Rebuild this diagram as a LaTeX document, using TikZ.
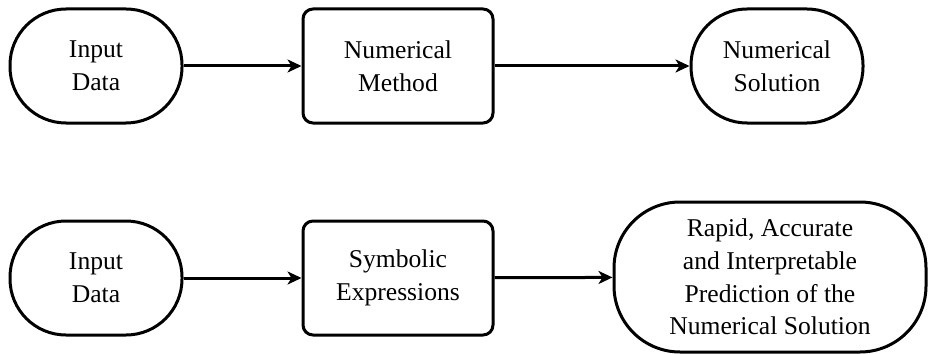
\documentclass[tikz,border=0pt]{standalone}
\usepackage{fontspec}
\setmainfont{LiberationSerif}[Extension=.ttf, UprightFont=*-Regular, BoldFont=*-Bold, ItalicFont=*-Italic]
\usetikzlibrary{arrows.meta}
\begin{document}
\begin{tikzpicture}[x=1pt,y=1pt,
  every node/.style={font=\fontsize{12.8}{16.4}\selectfont, align=center, inner sep=0pt, line width=1.5pt},
  stadium/.style={draw, rectangle, rounded corners=28pt, minimum width=86pt, minimum height=57pt},
  bigstadium/.style={draw, rectangle, rounded corners=33pt, minimum width=156pt, minimum height=75pt},
  procbox/.style={draw, rectangle, rounded corners=5pt, minimum width=95pt, minimum height=57pt},
  flow/.style={line width=1.5pt, -{Stealth[length=7pt, width=6.5pt, inset=2pt]}}
]
\useasboundingbox (0,0) rectangle (465,-176.5);

% upper row: numerical pipeline
\node[stadium] (in1) at (48,-33) {Input\\Data};
\node[procbox] (nm) at (199,-33) {Numerical\\Method};
\node[stadium] (ns) at (388.5,-33) {Numerical\\Solution};

% lower row: symbolic pipeline
\node[stadium] (in2) at (48,-139) {Input\\Data};
\node[procbox] (se) at (199,-139) {Symbolic\\Expressions};
\node[bigstadium] (pr) at (385,-138.5) {Rapid, Accurate\\and Interpretable\\Prediction of the\\Numerical Solution};

\draw[flow] (in1) -- (nm);
\draw[flow] (nm) -- (ns);
\draw[flow] (in2) -- (se);
\draw[flow] (se) -- (pr);
\end{tikzpicture}
\end{document}
